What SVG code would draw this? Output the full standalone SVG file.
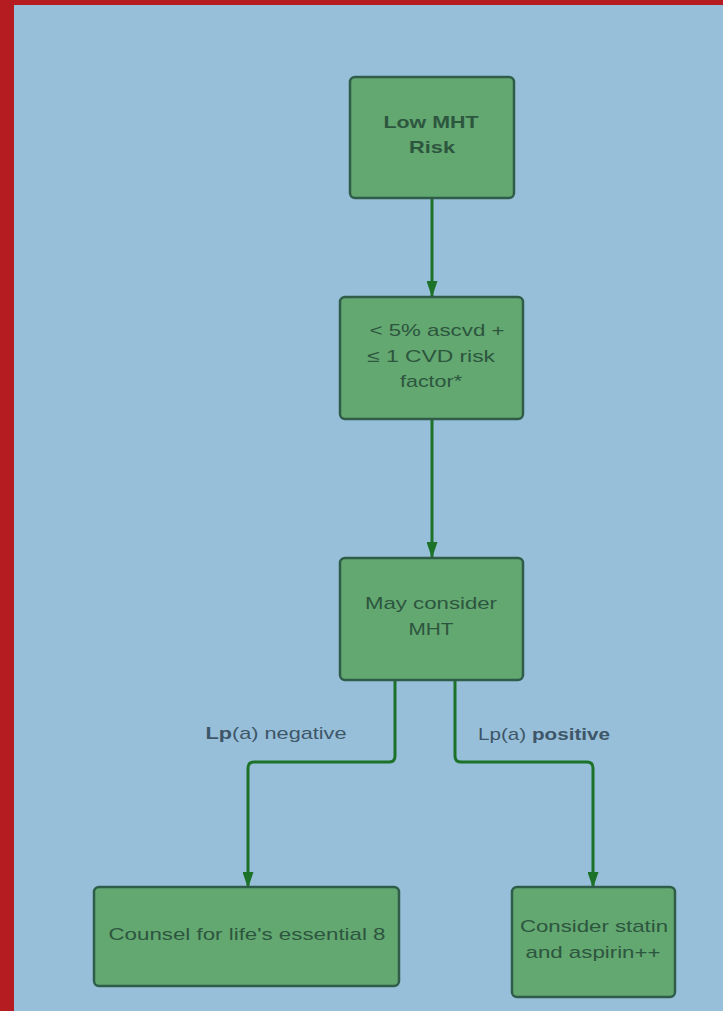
<svg xmlns="http://www.w3.org/2000/svg" width="723" height="1011" viewBox="0 0 723 1011">
<style>
.node rect{fill:#63a771;stroke:#2f5d4a;stroke-width:2.5}
.t{font-family:"Liberation Sans",Arial,sans-serif;font-size:17px;fill:#2d563e;text-anchor:middle}
.b{font-weight:bold}
.lbl{font-family:"Liberation Sans",Arial,sans-serif;font-size:17px;fill:#3e5668;text-anchor:middle}
.conn path{fill:none;stroke:#1c7228;stroke-width:3;stroke-linejoin:round}
</style>
<defs>
<marker id="ah" viewBox="0 0 16 11" refX="15" refY="5.5" markerWidth="16" markerHeight="11" orient="auto" markerUnits="userSpaceOnUse">
<path d="M0,0 L16,5.5 L0,11 z" fill="#1c7228"/>
</marker>
</defs>
<rect x="0" y="0" width="723" height="1011" fill="#b51c22"/>
<rect x="14" y="5" width="709" height="1006" fill="#97bfd9"/>
<g class="conn">
<path d="M432,198 V296" marker-end="url(#ah)"/>
<path d="M432,419 V557" marker-end="url(#ah)"/>
<path d="M395,680 V756 Q395,762 389,762 H254 Q248,762 248,768 V887" marker-end="url(#ah)"/>
<path d="M455,680 V756 Q455,762 461,762 H587 Q593,762 593,768 V887" marker-end="url(#ah)"/>
</g>
<g id="n1" class="node">
<rect x="350" y="77" width="164" height="121" rx="5"/>
<text class="t b" x="431" y="128" textLength="95" lengthAdjust="spacingAndGlyphs">Low MHT</text>
<text class="t b" x="432" y="153" textLength="46" lengthAdjust="spacingAndGlyphs">Risk</text>
</g>
<g id="n2" class="node">
<rect x="340" y="297" width="183" height="122" rx="5"/>
<text class="t" x="437" y="336" textLength="135" lengthAdjust="spacingAndGlyphs">&lt; 5% ascvd +</text>
<text class="t" x="431" y="362" textLength="128" lengthAdjust="spacingAndGlyphs">≤ 1 CVD risk</text>
<text class="t" x="431" y="387" textLength="62" lengthAdjust="spacingAndGlyphs">factor*</text>
</g>
<g id="n3" class="node">
<rect x="340" y="558" width="183" height="122" rx="5"/>
<text class="t" x="431" y="609" textLength="132" lengthAdjust="spacingAndGlyphs">May consider</text>
<text class="t" x="431" y="635" textLength="45" lengthAdjust="spacingAndGlyphs">MHT</text>
</g>
<g id="n4" class="node">
<rect x="94" y="887" width="305" height="99" rx="5"/>
<text class="t" x="247" y="940" textLength="277" lengthAdjust="spacingAndGlyphs">Counsel for life's essential 8</text>
</g>
<g id="n5" class="node">
<rect x="512" y="887" width="163" height="110" rx="5"/>
<text class="t" x="594" y="932" textLength="148" lengthAdjust="spacingAndGlyphs">Consider statin</text>
<text class="t" x="593" y="958" textLength="135" lengthAdjust="spacingAndGlyphs">and aspirin++</text>
</g>
<g id="labels">
<text class="lbl" x="276" y="739" textLength="141" lengthAdjust="spacingAndGlyphs"><tspan font-weight="bold">Lp</tspan>(a) negative</text>
<text class="lbl" x="544" y="740" textLength="132" lengthAdjust="spacingAndGlyphs">Lp(a) <tspan font-weight="bold">positive</tspan></text>
</g>
</svg>
